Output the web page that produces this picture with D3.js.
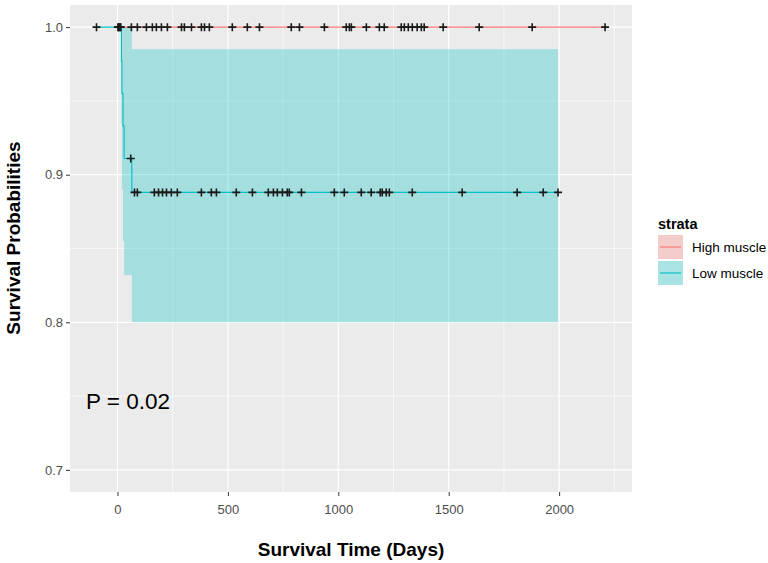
<!DOCTYPE html>
<html><head><meta charset="utf-8">
<script src="https://cdn.jsdelivr.net/npm/d3@7"></script>
<style>body{margin:0;background:#fff}</style>
</head><body>
<svg id="c" width="768" height="563"></svg>
<script>
// ---- data ----
const strata = ["High muscle", "Low muscle"];
const colors = ["#F8766D", "#00BFC4"];
// High muscle: no events, survival stays 1.0
const highStart = 0;
const highEnd = 2208;
const highCensor = [2,5,8,12,15,63,90,131,158,176,199,226,290,303,335,380,394,416,520,588,643,787,824,937,1036,1050,1059,1127,1186,1208,1285,1299,1317,1335,1357,1376,1389,1475,1638,1878,2208];
// Low muscle step curve
const lowStart = -95;
const lowEnd = 1995;
const lowTimes = [18, 20, 25, 30, 65];
const lowSurv = [0.977, 0.955, 0.933, 0.911, 0.888];
const lowUpper = [1.0, 1.0, 1.0, 1.0, 0.985];
const lowLower = [0.935, 0.89, 0.855, 0.832, 0.800];
const lowCensor = [-95, 60, 77, 90, 167, 186, 204, 222, 244, 271, 380, 425, 448, 538, 611, 683, 706, 724, 747, 769, 778, 833, 982, 1027, 1104, 1149, 1190, 1199, 1217, 1231, 1335, 1561, 1810, 1928, 1995];
const xTicks = [0, 500, 1000, 1500, 2000];
const yTicks = [0.7, 0.8, 0.9, 1.0];
const xMinor = [250, 750, 1250, 1750, 2250];
const yMinor = [0.75, 0.85, 0.95];
const pText = "P = 0.02";

// ---- layout ----
const P = {l: 70, r: 632, t: 5, b: 492};
const svg = d3.select("#c");
const x = d3.scaleLinear().domain([-215, 2330]).range([P.l, P.r]);
const y = d3.scaleLinear().domain([0.685, 1.015]).range([P.b, P.t]);
const FONT = "Liberation Sans, Arial, sans-serif";

svg.append("rect").attr("x", P.l).attr("y", P.t).attr("width", P.r - P.l).attr("height", P.b - P.t).attr("fill", "#EBEBEB");
const g = svg.append("g");
g.selectAll(".vm").data(xMinor.filter(d => x(d) < P.r)).join("line")
  .attr("x1", d => x(d)).attr("x2", d => x(d)).attr("y1", P.t).attr("y2", P.b)
  .attr("stroke", "#fff").attr("stroke-width", 0.6);
g.selectAll(".hm").data(yMinor).join("line")
  .attr("y1", d => y(d)).attr("y2", d => y(d)).attr("x1", P.l).attr("x2", P.r)
  .attr("stroke", "#fff").attr("stroke-width", 0.6);
g.selectAll(".vM").data(xTicks).join("line")
  .attr("x1", d => x(d)).attr("x2", d => x(d)).attr("y1", P.t).attr("y2", P.b)
  .attr("stroke", "#fff").attr("stroke-width", 1.2);
g.selectAll(".hM").data(yTicks).join("line")
  .attr("y1", d => y(d)).attr("y2", d => y(d)).attr("x1", P.l).attr("x2", P.r)
  .attr("stroke", "#fff").attr("stroke-width", 1.2);

// ---- low muscle confidence ribbon ----
const ribbon = [];
ribbon.push({t: lowStart, lo: 1, hi: 1});
lowTimes.forEach((t, i) => ribbon.push({t, lo: lowLower[i], hi: lowUpper[i]}));
ribbon.push({t: lowEnd, lo: lowLower[lowLower.length - 1], hi: lowUpper[lowUpper.length - 1]});
const area = d3.area().curve(d3.curveStepAfter)
  .x(d => x(d.t)).y0(d => y(d.lo)).y1(d => y(d.hi));
svg.append("path").datum(ribbon).attr("d", area).attr("fill", colors[1]).attr("fill-opacity", 0.3);

// ---- curves ----
const line = d3.line().curve(d3.curveStepAfter).x(d => x(d.t)).y(d => y(d.s));
const highPts = [{t: highStart, s: 1}, {t: highEnd, s: 1}];
svg.append("path").datum(highPts).attr("d", line).attr("fill", "none")
  .attr("stroke", colors[0]).attr("stroke-width", 1.1);
const lowPts = [{t: lowStart, s: 1}];
lowTimes.forEach((t, i) => lowPts.push({t, s: lowSurv[i]}));
lowPts.push({t: lowEnd, s: lowSurv[lowSurv.length - 1]});
svg.append("path").datum(lowPts).attr("d", line).attr("fill", "none")
  .attr("stroke", colors[1]).attr("stroke-width", 1.1);

// ---- censor marks ----
function survLowAt(t) {
  let s = 1;
  lowTimes.forEach((tt, i) => { if (t >= tt) s = lowSurv[i]; });
  return s;
}
const marks = highCensor.map(t => ({t, s: 1})).concat(lowCensor.map(t => ({t, s: survLowAt(t)})));
const mk = svg.append("g");
marks.forEach(d => {
  const cx = x(d.t), cy = y(d.s), h = 4;
  mk.append("path").attr("d", `M${cx - h},${cy}H${cx + h}M${cx},${cy - h}V${cy + h}`)
    .attr("stroke", "#1a1a1a").attr("stroke-width", 1.6).attr("fill", "none");
});

// ---- axes ----
const xa = svg.append("g").attr("transform", `translate(0,${P.b})`)
  .call(d3.axisBottom(x).tickValues(xTicks).tickSize(4).tickPadding(4).tickFormat(d3.format("d")));
const ya = svg.append("g").attr("transform", `translate(${P.l},0)`)
  .call(d3.axisLeft(y).tickValues(yTicks).tickSize(4).tickPadding(3).tickFormat(d3.format(".1f")));
[xa, ya].forEach(a => {
  a.select(".domain").remove();
  a.selectAll(".tick line").attr("stroke", "#333");
  a.selectAll("text").attr("fill", "#4D4D4D").style("font-family", FONT).style("font-size", "13px");
});
xa.selectAll("text").attr("dy", "1.05em");

svg.append("text").attr("x", (P.l + P.r) / 2).attr("y", 556).attr("text-anchor", "middle")
  .style("font-family", FONT).style("font-size", "19px").style("font-weight", "bold")
  .attr("fill", "#000").text("Survival Time (Days)");
svg.append("text").attr("transform", `translate(20,238) rotate(-90)`).attr("text-anchor", "middle")
  .style("font-family", FONT).style("font-size", "19px").style("font-weight", "bold")
  .attr("fill", "#000").text("Survival Probabilities");

svg.append("text").attr("x", 86).attr("y", 409)
  .style("font-family", FONT).style("font-size", "22.5px")
  .attr("fill", "#000").text(pText);

// ---- legend ----
const lg = svg.append("g");
lg.append("text").attr("x", 658).attr("y", 229)
  .style("font-family", FONT).style("font-size", "14.5px").style("font-weight", "bold")
  .text("strata");
strata.forEach((s, i) => {
  const ky = 235 + i * 26;
  lg.append("rect").attr("x", 658).attr("y", ky).attr("width", 25).attr("height", 24).attr("fill", "#F2F2F2");
  lg.append("rect").attr("x", 658).attr("y", ky).attr("width", 25).attr("height", 24).attr("fill", colors[i]).attr("fill-opacity", 0.3);
  lg.append("line").attr("x1", 660).attr("x2", 681).attr("y1", ky + 12).attr("y2", ky + 12)
    .attr("stroke", colors[i]).attr("stroke-width", 1.1);
  lg.append("text").attr("x", 692).attr("y", ky + 12).attr("dy", "0.35em")
    .style("font-family", FONT).style("font-size", "13.5px").attr("fill", "#000")
    .text(s);
});
</script>
</body></html>
